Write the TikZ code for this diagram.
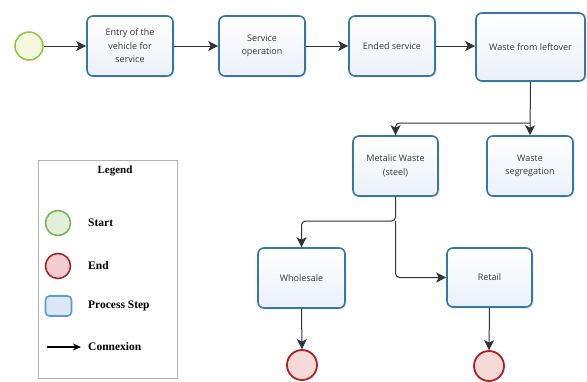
\documentclass[tikz,border=0pt]{standalone}
\usepackage{fontspec}
\setmainfont{Open Sans}
\newfontfamily\legfont{Liberation Serif}
\usetikzlibrary{arrows.meta,shadows}
\definecolor{boxborder}{HTML}{36789F}
\definecolor{boxfill}{HTML}{EBF0F9}
\definecolor{startborder}{HTML}{8CC63F}
\definecolor{startfill}{HTML}{F3F9DC}
\definecolor{endborder}{HTML}{B0201E}
\definecolor{endfill}{HTML}{F6D9D9}
\definecolor{lgstartb}{HTML}{7DB356}
\definecolor{lgstartf}{HTML}{E2EFD9}
\definecolor{lgendb}{HTML}{A5262A}
\definecolor{lgendf}{HTML}{F3CDCF}
\definecolor{lgprocb}{HTML}{5B9BD5}
\definecolor{lgprocf}{HTML}{DCE8F5}
\definecolor{linecol}{HTML}{333333}
\begin{document}
\begin{tikzpicture}[x=1pt,y=-1pt,
  proc/.style={draw=boxborder, line width=1.6pt, rounded corners=6pt,
    top color=white, bottom color=boxfill, align=center,
    font=\fontsize{9}{13.5}\selectfont, text=black!78,
    drop shadow={shadow xshift=1.5pt, shadow yshift=-1.5pt, opacity=0.18}},
  startev/.style={circle, draw=startborder, fill=startfill, line width=1.5pt,
    minimum size=28pt, inner sep=0pt},
  endev/.style={circle, draw=endborder, fill=endfill, line width=1.8pt,
    minimum size=30pt, inner sep=0pt},
  conn/.style={draw=linecol, line width=1pt, -{Stealth[length=10pt,width=10pt,inset=2.5pt]}, rounded corners=4pt},
  legtext/.style={font=\legfont\bfseries\fontsize{11.5}{13}\selectfont, anchor=west, inner sep=0pt},
]
\useasboundingbox (0,0) rectangle (587,381);

% main flow
\node[startev] (start) at (29,46) {};
\node[proc, minimum width=86pt, minimum height=60pt] (entry) at (130,46) {Entry of the\\vehicle for\\service};
\node[proc, minimum width=86pt, minimum height=60pt] (serv) at (262,46) {Service\\operation};
\node[proc, minimum width=86pt, minimum height=60pt] (ended) at (392,46) {Ended service};
\node[proc, minimum width=109pt, minimum height=68pt] (waste) at (530.5,47) {Waste from leftover};
\node[proc, minimum width=85pt, minimum height=60pt] (metal) at (395.5,166) {Metalic Waste\\(steel)};
\node[proc, minimum width=86pt, minimum height=60pt] (seg) at (530,166) {Waste\\segregation};
\node[proc, minimum width=87pt, minimum height=60pt] (whole) at (301.5,278) {Wholesale};
\node[proc, minimum width=85pt, minimum height=59pt] (retail) at (489.5,277.5) {Retail};
\node[endev] (endA) at (302,365) {};
\node[endev] (endB) at (489,366) {};

\coordinate (j1) at (530,123);
\coordinate (j2) at (395.5,221);

\draw[conn] (start) -- (entry);
\draw[conn] (entry) -- (serv);
\draw[conn] (serv) -- (ended);
\draw[conn] (ended.east) -- (ended.east -| waste.west);
\draw[conn] (waste.south) -- (seg.north);
\draw[conn] (j1) -| (metal.north);
\draw[conn] (metal.south) -- (j2) -| (whole.north);
\draw[conn] (j2) |- (retail.west);
\draw[conn] (whole.south) -- (endA.north);
\draw[conn] (retail.south) -- (endB.north);

% legend
\node[draw=black!30, line width=0.8pt, minimum width=139pt, minimum height=218pt, inner sep=0pt] (leg) at (107.5,269) {};
\node[font=\legfont\bfseries\fontsize{11}{13}\selectfont] (legtitle) at (115,171) {Legend};
\node[circle, draw=lgstartb, fill=lgstartf, line width=1.6pt, minimum size=25pt, inner sep=0pt] (lgs) at (58,223) {};
\node[legtext] (lgstext) at (88,223) {Start};
\node[circle, draw=lgendb, fill=lgendf, line width=1.6pt, minimum size=25pt, inner sep=0pt] (lge) at (58,266) {};
\node[legtext] (lgetext) at (88,266) {End};
\node[draw=lgprocb, fill=lgprocf, line width=1.6pt, rounded corners=4pt, minimum width=26pt, minimum height=20pt, inner sep=0pt] (lgp) at (58.5,306) {};
\node[legtext] (lgptext) at (88,306) {Process Step};
\coordinate (la) at (47,347);
\coordinate (lb) at (81,347);
\draw[black, line width=1.8pt, -{Stealth[length=8pt,width=7pt]}] (la) -- (lb);
\node[legtext] (lgctext) at (88,347) {Connexion};
\end{tikzpicture}
\end{document}
